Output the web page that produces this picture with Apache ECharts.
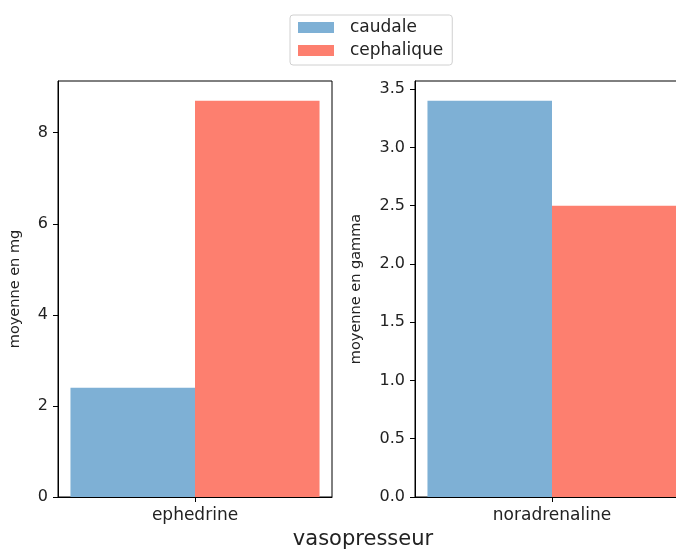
<!DOCTYPE html>
<html><head><meta charset="utf-8">
<script src="https://cdn.jsdelivr.net/npm/echarts@6/dist/echarts.min.js"></script>
<style>html,body{margin:0;padding:0;background:#fff}#c{width:676px;height:551px}</style>
</head><body><div id="c"></div>
<script>
const seriesNames = ['caudale', 'cephalique'];
const leftCategories = ['ephedrine'];
const rightCategories = ['noradrenaline'];
const leftCaudale = [2.4];
const leftCephalique = [8.7];
const rightCaudale = [3.4];
const rightCephalique = [2.5];
const leftTicks = [0, 2, 4, 6, 8];
const rightTicks = [0.0, 0.5, 1.0, 1.5, 2.0, 2.5, 3.0, 3.5];
const colors = ['#7eb0d5', '#fd7f6f'];

const FONT = 'DejaVu Sans';
const TXT = '#222';
const chart = echarts.init(document.getElementById('c'), null, {renderer: 'canvas'});
const leftMax = Math.max(...leftCaudale, ...leftCephalique) * 1.05;
const rightMax = Math.max(...rightCaudale, ...rightCephalique) * 1.05;

function yAxis(idx, max, ticks, name, gap, dec) {
  return {
    type: 'value', gridIndex: idx, min: 0, max: max, interval: ticks[1] - ticks[0],
    name: name, nameLocation: 'middle', nameGap: gap,
    nameTextStyle: {fontFamily: FONT, fontSize: 14.5, color: TXT},
    axisLine: {show: true, lineStyle: {color: '#000', width: 1}},
    axisTick: {show: true, length: 5, lineStyle: {color: '#000'}},
    axisLabel: {fontFamily: FONT, fontSize: 16, color: TXT, margin: 10, showMaxLabel: false,
      formatter: v => dec ? v.toFixed(1) : String(v)},
    splitLine: {show: false}
  };
}
function xAxis(idx, cats) {
  return {
    type: 'category', gridIndex: idx, data: cats,
    axisLine: {show: true, lineStyle: {color: '#000', width: 1}},
    axisTick: {show: true, alignWithLabel: true, length: 5, lineStyle: {color: '#000'}},
    axisLabel: {fontFamily: FONT, fontSize: 17, color: TXT, margin: 10}
  };
}
function bar(name, data, idx, color) {
  return {
    type: 'bar', name: name, data: data, xAxisIndex: idx, yAxisIndex: idx,
    barWidth: '45.45%', barGap: '0%', itemStyle: {color: color}, silent: true
  };
}

chart.setOption({
  animation: false,
  legend: {
    orient: 'vertical', left: 290, top: 15,
    data: seriesNames,
    icon: 'rect', itemWidth: 36, itemHeight: 11, itemGap: 6,
    borderColor: '#d0d0d0', borderWidth: 1, borderRadius: 3,
    padding: [4, 9, 6, 8],
    textStyle: {fontFamily: FONT, fontSize: 17, color: TXT, padding: [0, 0, 0, 11]}
  },
  grid: [
    {left: 58, top: 81, width: 274, height: 416, show: true, borderColor: '#000', borderWidth: 1, containLabel: false, outerBoundsMode: 'none'},
    {left: 415, top: 81, width: 274, height: 416, show: true, borderColor: '#000', borderWidth: 1, containLabel: false, outerBoundsMode: 'none'}
  ],
  xAxis: [xAxis(0, leftCategories), xAxis(1, rightCategories)],
  yAxis: [
    yAxis(0, leftMax, leftTicks, 'moyenne en mg', 35, false),
    yAxis(1, rightMax, rightTicks, 'moyenne en gamma', 51, true)
  ],
  series: [
    bar(seriesNames[0], leftCaudale, 0, colors[0]),
    bar(seriesNames[1], leftCephalique, 0, colors[1]),
    bar(seriesNames[0], rightCaudale, 1, colors[0]),
    bar(seriesNames[1], rightCephalique, 1, colors[1])
  ],
  graphic: [{
    type: 'text', x: 363, y: 540,
    style: {text: 'vasopresseur', font: '21px "DejaVu Sans"', fill: TXT, align: 'center', verticalAlign: 'middle'}
  }]
});
</script></body></html>
